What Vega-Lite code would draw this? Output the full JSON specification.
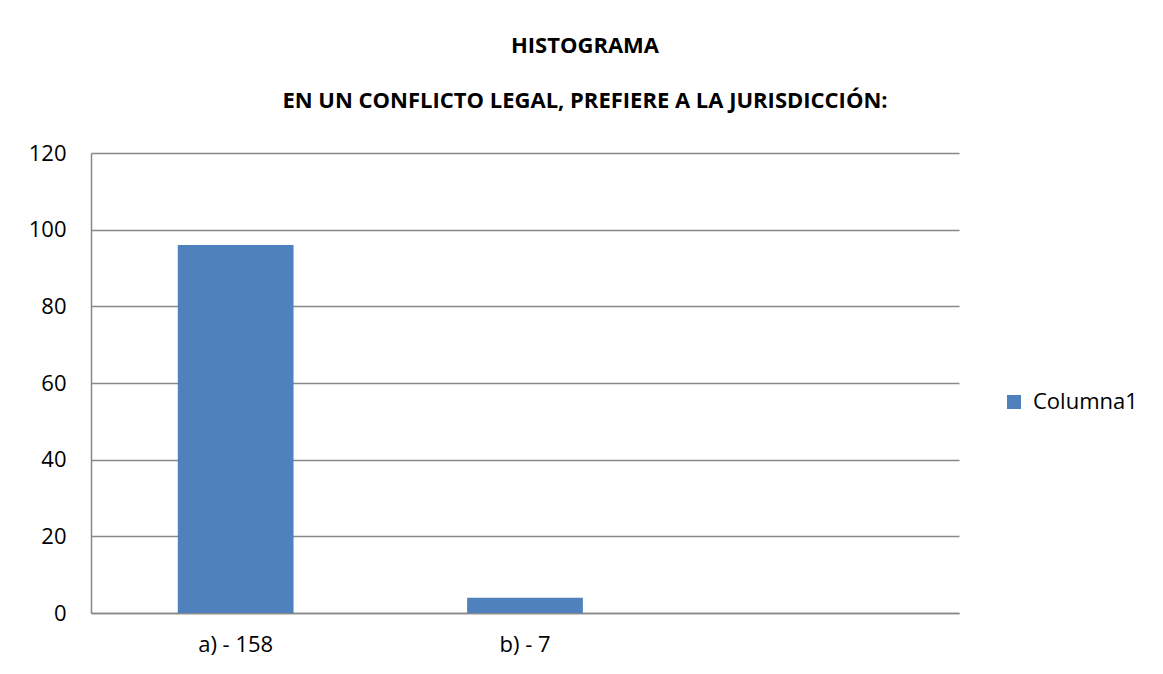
{
  "$schema": "https://vega.github.io/schema/vega-lite/v6.json",
  "width": 868,
  "height": 460,
  "autosize": {"type": "none"},
  "padding": {"left": 91, "top": 153, "right": 204, "bottom": 61},
  "background": "white",
  "config": {"view": {"stroke": null}, "font": "Open Sans"},
  "title": {
    "text": "HISTOGRAMA",
    "subtitle": "EN UN CONFLICTO LEGAL, PREFIERE A LA JURISDICCIÓN:",
    "anchor": "middle",
    "dx": 60,
    "fontSize": 22,
    "fontWeight": "bold",
    "color": "black",
    "subtitleFontSize": 22,
    "subtitleFontWeight": "bold",
    "subtitleColor": "black",
    "subtitlePadding": 33,
    "offset": 29
  },
  "data": {
    "values": [
      {"categoria": "a) - 158", "valor": 96, "serie": "Columna1"},
      {"categoria": "b) - 7", "valor": 4, "serie": "Columna1"},
      {"categoria": " ", "valor": 0, "serie": "Columna1"}
    ]
  },
  "mark": {"type": "bar"},
  "encoding": {
    "x": {
      "field": "categoria",
      "type": "nominal",
      "sort": null,
      "scale": {"domain": ["a) - 158", "b) - 7", " "], "paddingInner": 0.6, "paddingOuter": 0.3},
      "axis": {"title": null, "labelAngle": 0, "ticks": false, "domainColor": "#888888", "domainWidth": 1.5, "labelFontSize": 22, "labelPadding": 21, "labelColor": "black", "grid": false}
    },
    "y": {
      "field": "valor",
      "type": "quantitative",
      "scale": {"domain": [0, 120]},
      "axis": {"values": [0, 20, 40, 60, 80, 100, 120], "title": null, "ticks": false, "domainColor": "#888888", "domainWidth": 1.5, "gridColor": "#888888", "gridWidth": 1.5, "gridOpacity": 1, "labelFontSize": 22, "labelPadding": 25, "labelColor": "black"}
    },
    "color": {
      "field": "serie",
      "type": "nominal",
      "scale": {"range": ["#4F81BD"]},
      "legend": {"title": null, "orient": "none", "legendX": 912, "legendY": 238, "labelFontSize": 22, "labelColor": "black", "symbolType": "square", "symbolSize": 196, "symbolStrokeWidth": 0, "labelOffset": 8}
    }
  }
}
